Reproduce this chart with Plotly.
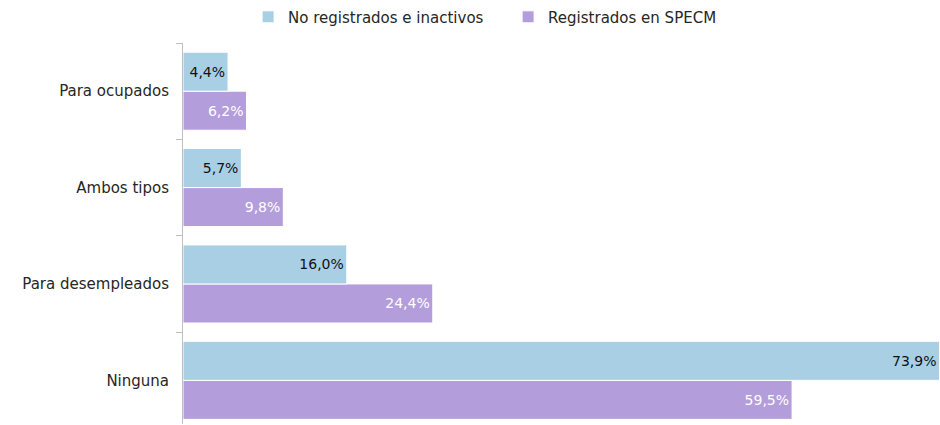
import plotly.graph_objects as go

categories = ["Ninguna", "Para desempleados", "Ambos tipos", "Para ocupados"]
no_registrados = [73.9, 16.0, 5.7, 4.4]
registrados = [59.5, 24.4, 9.8, 6.2]
series_names = ["No registrados e inactivos", "Registrados en SPECM"]

def fmt(v):
    return f"{v:.1f}%".replace(".", ",")

font_family = "'DejaVu Sans', sans-serif"

fig = go.Figure()
fig.add_trace(go.Bar(
    y=categories, x=registrados, orientation="h", name=series_names[1],
    marker=dict(color="#B39DDB", line=dict(color="white", width=1)),
    text=[fmt(v) for v in registrados], textposition="inside",
    insidetextanchor="end", textfont=dict(color="white", size=14, family=font_family),
    legendrank=2,
))
fig.add_trace(go.Bar(
    y=categories, x=no_registrados, orientation="h", name=series_names[0],
    marker=dict(color="#A9CFE5", line=dict(color="white", width=1)),
    text=[fmt(v) for v in no_registrados], textposition="inside",
    insidetextanchor="end", textfont=dict(color="#111111", size=14, family=font_family),
    legendrank=1,
))

fig.update_layout(
    width=940, height=425,
    margin=dict(l=183, r=0, t=43, b=1),
    barmode="group", bargap=0.19, bargroupgap=0,
    plot_bgcolor="white", paper_bgcolor="white",
    font=dict(family=font_family, size=15, color="#262626"),
    uniformtext=dict(mode=False),
    legend=dict(orientation="h", x=0.086, xanchor="left", y=1.068, yanchor="middle",
                font=dict(size=15, color="#262626"), itemwidth=30,
                entrywidth=215, entrywidthmode="pixels",
                traceorder="normal"),
    xaxis=dict(visible=False, range=[0, 73.95]),
    yaxis=dict(
        type="category", categoryorder="array", categoryarray=categories,
        range=[-0.453, 3.5],
        showline=True, linecolor="#BFBFBF", linewidth=1,
        ticks="outside", tickson="boundaries", ticklen=6, tickcolor="#BFBFBF",
        showgrid=False, ticklabelstandoff=10,
    ),
)

fig.write_html(
    "out.html",
    config={"displayModeBar": False},
    post_script="document.body.style.margin='0';document.body.style.overflow='hidden';",
)
